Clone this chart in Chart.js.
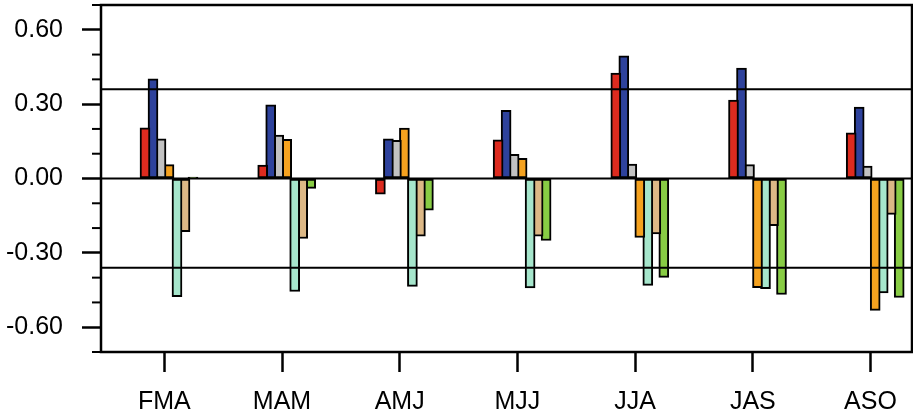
<!DOCTYPE html>
<html>
<head>
<meta charset="utf-8">
<script src="https://cdn.jsdelivr.net/npm/chart.js@4/dist/chart.umd.min.js"></script>
<style>
  html, body { margin: 0; padding: 0; background: #fff; }
  #wrap { width: 913px; height: 419px; }
</style>
</head>
<body>
<div id="wrap"><canvas id="barChart"></canvas></div>
<script>
// categories (3-month seasons)
const seasons = ["FMA", "MAM", "AMJ", "MJJ", "JJA", "JAS", "ASO"];

// series values
const redVals    = [0.204, 0.054, -0.063, 0.156, 0.425, 0.316, 0.184];
const blueVals   = [0.402, 0.297, 0.160, 0.275, 0.495, 0.445, 0.288];
const grayVals   = [0.160, 0.175, 0.154, 0.098, 0.058, 0.056, 0.050];
const orangeVals = [0.056, 0.158, 0.203, 0.081, -0.238, -0.440, -0.532];
const cyanVals   = [-0.477, -0.456, -0.435, -0.441, -0.431, -0.444, -0.462];
const tanVals    = [-0.215, -0.242, -0.233, -0.233, -0.224, -0.190, -0.145];
const greenVals  = [0.006, -0.040, -0.128, -0.250, -0.399, -0.468, -0.480];

// y tick labels and the reference lines (significance levels + zero)
const yTicks = [-0.6, -0.3, 0, 0.3, 0.6];
const refLines = [0.36, 0, -0.36];

const seriesList = [
  { vals: redVals, color: "#dd2b1f" },
  { vals: blueVals, color: "#2e429c" },
  { vals: grayVals, color: "#c2c2c2" },
  { vals: orangeVals, color: "#f5a21f" },
  { vals: cyanVals, color: "#a6e6cc" },
  { vals: tanVals, color: "#dcb886" },
  { vals: greenVals, color: "#88cc44" },
];

// bars sit side by side, 8px apart, group a bit right of the tick
const catPx = 117.7;
const barPitch = 8;
const firstOffset = -19.3;

const datasets = seriesList.map((s, si) => ({
  data: s.vals.map((v, i) => ({ x: i + (firstOffset + si * barPitch) / catPx, y: v })),
  backgroundColor: s.color,
  borderColor: "#000",
  borderWidth: 2,
  borderSkipped: false,
  barThickness: 10,
  grouped: false,
}));

const fontSpec = { family: "'Liberation Sans', Arial, Helvetica", size: 25 };

// minor ticks, frame and horizontal lines
const decor = {
  id: "decor",
  afterDatasetsDraw(chart) {
    const { ctx, chartArea: a, scales: { y } } = chart;
    ctx.save();
    ctx.strokeStyle = "#000";
    ctx.lineWidth = 2;
    refLines.forEach((v) => {
      const py = y.getPixelForValue(v);
      ctx.beginPath();
      ctx.moveTo(a.left, py);
      ctx.lineTo(a.right, py);
      ctx.stroke();
    });
    for (let k = -7; k <= 7; k++) {
      if (k % 3 === 0) continue;
      const py = y.getPixelForValue(k / 10);
      ctx.beginPath();
      ctx.moveTo(a.left - 9, py);
      ctx.lineTo(a.left, py);
      ctx.stroke();
    }
    ctx.lineWidth = 2.5;
    ctx.strokeRect(a.left, a.top, a.right - a.left, a.bottom - a.top);
    ctx.restore();
  },
};

new Chart(document.getElementById("barChart"), {
  type: "bar",
  data: { datasets },
  options: {
    responsive: true,
    maintainAspectRatio: false,
    animation: false,
    layout: { padding: { top: 5, right: 1, left: 0, bottom: 0 } },
    plugins: { legend: { display: false }, tooltip: { enabled: false } },
    scales: {
      x: {
        type: "linear",
        offset: false,
        min: -(164.3 - 101) / catPx,
        max: (912 - 164.3) / catPx,
        afterBuildTicks: (sc) => { sc.ticks = seasons.map((c, i) => ({ value: i })); },
        afterFit: (sc) => { sc.height = 67; sc.paddingLeft = 0; sc.paddingRight = 0; },
        ticks: {
          autoSkip: false,
          maxRotation: 0,
          padding: 15,
          color: "#000",
          font: fontSpec,
          callback: (v) => seasons[Math.round(v)],
        },
        grid: {
          offset: false,
          drawOnChartArea: false,
          tickLength: 20,
          tickWidth: 2.5,
          tickColor: "#000",
        },
        border: { display: false },
      },
      y: {
        min: -0.7,
        max: 0.7,
        afterBuildTicks: (sc) => { sc.ticks = yTicks.map((v) => ({ value: v })); },
        afterFit: (sc) => { sc.width = 101; sc.paddingTop = 0; sc.paddingBottom = 0; },
        ticks: {
          padding: 19,
          color: "#000",
          font: fontSpec,
          callback: (v) => v.toFixed(2),
        },
        grid: {
          drawOnChartArea: false,
          tickLength: 19,
          tickWidth: 2.5,
          tickColor: "#000",
        },
        border: { display: false },
      },
    },
  },
  plugins: [decor],
});
</script>
</body>
</html>
